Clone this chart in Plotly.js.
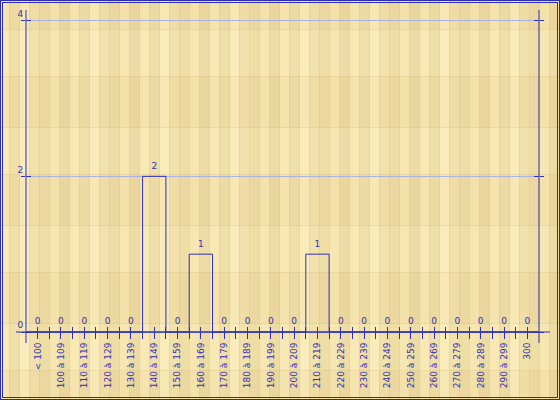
<!DOCTYPE html>
<html>
<head>
<meta charset="utf-8">
<script src="https://cdn.plot.ly/plotly-3.0.1.min.js"></script>
<style>
  html, body { margin: 0; padding: 0; }
  body {
    width: 560px; height: 400px; overflow: hidden; position: relative;
    background-color: #EEDBA2;
    background-image:
      repeating-linear-gradient(180deg, rgba(255,248,210,0.10) 0 46px, rgba(200,170,100,0.22) 46px 47px, rgba(190,160,90,0.04) 47px 97px, rgba(200,170,100,0.22) 97px 98px),
      repeating-linear-gradient(90deg, #F7E6B1 0 9px, #E6D29A 9px 10px, #EFDCA5 10px 19px, #E6D197 19px 20px, #F9EAB8 20px 29px, #E8D49B 29px 30px, #F1DFA9 30px 39px, #E5D098 39px 40px, #EDDAA2 40px 49px, #E7D39A 49px 50px, #F6E4AE 50px 59px, #E6D197 59px 60px, #ECD8A0 60px 69px, #E5D096 69px 70px);
    background-size: 30px 98px, 70px 100%;
    background-position: 10px 30px, 0 0;
  }
  #frame {
    position: absolute; left: 0; top: 0; width: 560px; height: 400px;
    box-sizing: border-box; border: 3px double #2E2EA8; pointer-events: none; z-index: 5;
  }
  #chart { position: absolute; left: 0; top: 0; width: 560px; height: 400px; }
</style>
</head>
<body>
<div id="chart"></div>
<div id="frame"></div>
<script>
// ---- data ----
const categories = ["< 100", "100 à 109", "110 à 119", "120 à 129", "130 à 139", "140 à 149",
  "150 à 159", "160 à 169", "170 à 179", "180 à 189", "190 à 199", "200 à 209",
  "210 à 219", "220 à 229", "230 à 239", "240 à 249", "250 à 259", "260 à 269",
  "270 à 279", "280 à 289", "290 à 299", "300"];
const counts = [0, 0, 0, 0, 0, 2, 0, 1, 0, 0, 0, 0, 1, 0, 0, 0, 0, 0, 0, 0, 0, 0];
const yTickVals = [0, 2, 4];
const yTickText = ["0", "2", "4"];

// ---- build ----
const blue = "#3030B0";
const gridBlue = "#A9B3E3";
const xIdx = categories.map((c, i) => i);
const yMin = -0.141, yMax = 4.137;
const xPos = (0 - yMin) / (yMax - yMin);
const xRange = [-0.5, categories.length - 0.5];

const allTickVals = [], allTickText = [];
for (let i = 0; i < categories.length; i++) {
  allTickVals.push(i); allTickText.push(categories[i]);
  if (i < categories.length - 1) { allTickVals.push(i + 0.5); allTickText.push(""); }
}

const font = { family: "DejaVu Sans, Verdana, sans-serif", size: 9, color: blue };

const traces = [
  {
    type: "bar", x: xIdx, y: counts,
    marker: { color: "rgba(0,0,0,0)", line: { color: blue, width: 1 } },
    hoverinfo: "skip", cliponaxis: false
  },
  {
    type: "scatter", mode: "markers+text", x: xIdx, y: counts,
    marker: { size: 7, opacity: 0, color: "rgba(0,0,0,0)" },
    text: counts.map(String), textposition: "top center",
    textfont: font, hoverinfo: "skip", cliponaxis: false
  },
  { type: "scatter", mode: "none", x: [], y: [], xaxis: "x2", yaxis: "y2", hoverinfo: "skip" }
];

const layout = {
  width: 560, height: 400,
  margin: { l: 26, r: 21, t: 10, b: 57, pad: 0 },
  paper_bgcolor: "rgba(0,0,0,0)", plot_bgcolor: "rgba(0,0,0,0)",
  showlegend: false, bargap: 0,
  font: font,
  xaxis: {
    type: "linear", range: xRange, anchor: "free", position: xPos,
    tickmode: "array", tickvals: allTickVals, ticktext: allTickText,
    tickangle: -90, ticks: "outside", ticklen: 6, tickcolor: blue, tickwidth: 1,
    showgrid: false, zeroline: false, showline: false, tickfont: font, fixedrange: true
  },
  xaxis2: {
    type: "linear", range: xRange, overlaying: "x", anchor: "free", position: xPos,
    tickmode: "array", tickvals: allTickVals, ticks: "inside", ticklen: 5,
    tickcolor: blue, tickwidth: 1, showticklabels: false,
    showgrid: false, zeroline: false, showline: false, fixedrange: true
  },
  yaxis: {
    range: [yMin, yMax], tickmode: "array", tickvals: yTickVals, ticktext: yTickText,
    ticks: "outside", ticklen: 4, tickcolor: blue, tickwidth: 1,
    showline: false, mirror: "ticks",
    showgrid: true, gridcolor: gridBlue, gridwidth: 1, zeroline: false,
    ticklabelposition: "outside top", tickfont: font, fixedrange: true
  },
  yaxis2: {
    range: [yMin, yMax], overlaying: "y", anchor: "x2", tickmode: "array", tickvals: yTickVals,
    ticks: "inside", ticklen: 5, tickcolor: blue, tickwidth: 1,
    showline: false, mirror: "ticks", showticklabels: false,
    showgrid: false, zeroline: false, fixedrange: true
  },
  shapes: [
    { type: "line", xref: "paper", yref: "y", x0: -10 / 513, x1: 1 + 11 / 513, y0: 0, y1: 0,
      line: { color: blue, width: 1 }, layer: "above" },
    { type: "line", xref: "paper", yref: "paper", x0: 0, x1: 0, y0: 0, y1: 1,
      line: { color: blue, width: 1 }, layer: "above" },
    { type: "line", xref: "paper", yref: "paper", x0: 1, x1: 1, y0: 0, y1: 1,
      line: { color: blue, width: 1 }, layer: "above" }
  ]
};

Plotly.newPlot("chart", traces, layout, { staticPlot: true, displayModeBar: false });
</script>
</body>
</html>
